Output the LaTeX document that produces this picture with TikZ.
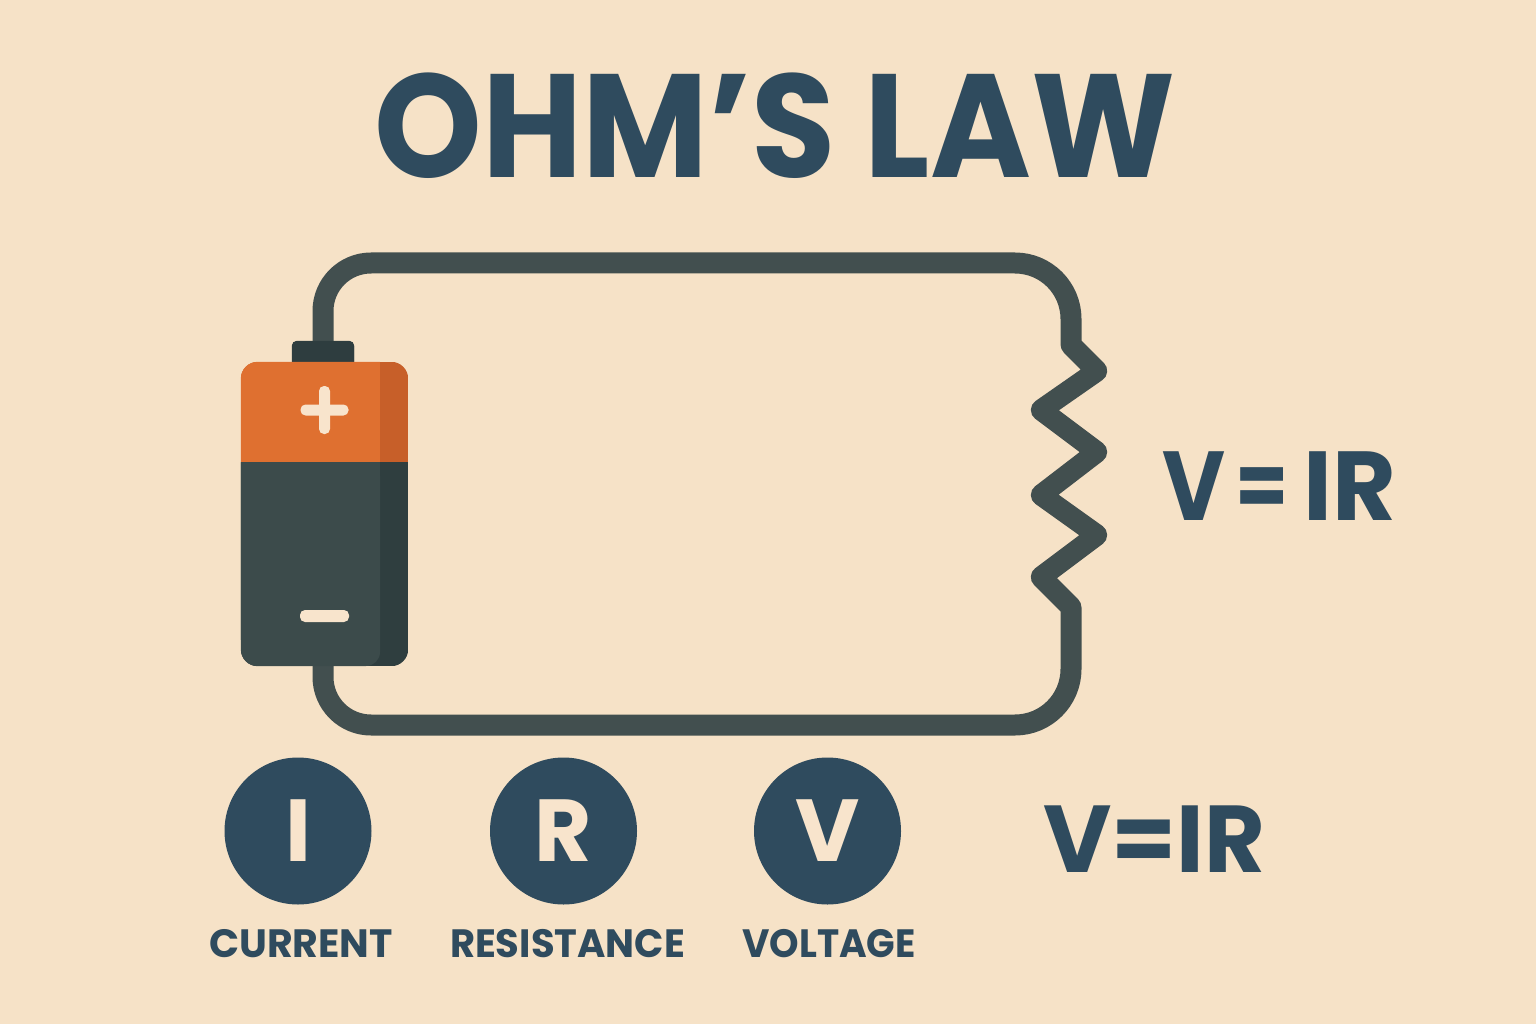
\documentclass[tikz,border=0pt]{standalone}
\usepackage{fontspec}
\setmainfont{Poppins}[BoldFont=Poppins Bold]
\definecolor{bgc}{HTML}{F6E2C7}
\definecolor{ink}{HTML}{2F4B5E}
\definecolor{wirec}{HTML}{424F4F}
\definecolor{darkc}{HTML}{3C4B4B}
\definecolor{darkshade}{HTML}{2F3E3F}
\definecolor{capc}{HTML}{2E3D3F}
\definecolor{orangec}{HTML}{DF7030}
\definecolor{orangeshade}{HTML}{C75F29}
\definecolor{markc}{HTML}{F8E4CC}
\tikzset{
  x=1pt,y=-1pt,
  wire/.style={draw=wirec,line width=21pt,line join=round},
  txt/.style={text=ink,font=\bfseries,inner sep=0pt,anchor=center},
  disc/.style={circle,fill=ink,minimum size=147pt,inner sep=0pt,text=markc,font=\fontsize{88}{88}\selectfont\bfseries},
  cap label/.style={text=ink,inner sep=0pt,transform shape,font=\fontsize{39.5}{40}\selectfont\bfseries},
  mark bar/.style={fill=markc,rounded corners=5pt}
}
\begin{document}
\begin{tikzpicture}
\useasboundingbox (0,0) rectangle (1536,1024);
\fill[bgc] (0,0) rectangle (1536,1024);
% title
\node[txt,transform shape,xscale=.932,font=\fontsize{147}{147}\selectfont\bfseries] (title) at (775,126) {OHM’S LAW};
% anchors
\node[inner sep=0pt,minimum width=167pt,minimum height=304pt] (battery) at (324.5,514) {};
\node[fill=capc,rounded corners=5pt,minimum width=62pt,minimum height=26pt,inner sep=0pt] (cap) at (323,354) {};
\coordinate (zt) at (1071,345);
\coordinate (z1) at (1097,371);
\coordinate (z2) at (1041,410);
\coordinate (z3) at (1097,452);
\coordinate (z4) at (1041,495);
\coordinate (z5) at (1097,535);
\coordinate (z6) at (1041,577);
\coordinate (zb) at (1071,607);
\coordinate (tl) at (323,263);
\coordinate (tr) at (1071,263);
\coordinate (bl) at (323,725);
\coordinate (br) at (1071,725);
\coordinate (batbot) at (323,660);
% wire: corners of the loop are rounded, the resistor zigzag keeps its own joins
\draw[wire] (cap.north) [rounded corners=48pt] -- (tl) [rounded corners=56pt] -- (tr) [rounded corners=0.5pt] -- (zt) -- (z1) -- (z2) -- (z3) -- (z4) -- (z5) -- (z6) -- (zb) [rounded corners=56pt] -- (br) [rounded corners=48pt] -- (bl) -- (batbot);
% cap redraw above wire
\fill[capc,rounded corners=5pt] (cap.north west) rectangle (cap.south east);
% battery body
\begin{scope}
\clip[rounded corners=17pt] (battery.north west) rectangle (battery.south east);
\fill[orangeshade] (241,362) rectangle (408,462);
\fill[darkshade] (241,462) rectangle (408,666);
\fill[orangec] (230,350) rectangle (380,462);
\fill[darkc,rounded corners=14pt] (230,462) -- (380,462) -- (380,666) -- (230,666) -- cycle;
\fill[darkc] (230,462) rectangle (380,640);
\end{scope}
% plus / minus
\node[mark bar,minimum width=48pt,minimum height=11pt,inner sep=0pt] (plush) at (324.5,410) {};
\node[mark bar,minimum width=11pt,minimum height=48pt,inner sep=0pt] (plusv) at (324.5,410) {};
\node[mark bar,minimum width=49pt,minimum height=12pt,inner sep=0pt] (minus) at (324.5,616) {};
% equations
\node[txt,font=\fontsize{98}{98}\selectfont\bfseries] (eqa) at (1279.25,486) {\scalebox{.88}[1]{V}\kern10.5pt\raisebox{2.5pt}{\scalebox{.78}[.92]{=}}\kern15pt IR};
\node[txt,transform shape,xscale=.985,font=\fontsize{95}{95}\selectfont\bfseries] (eqb) at (1154.5,839) {V=IR};
% legend
\node[disc] (di) at (298,831) {\raisebox{-2pt}{I}};
\node[disc] (dr) at (563.5,831) {\raisebox{-2pt}{R}};
\node[disc] (dv) at (827.5,831) {\raisebox{-2pt}{V}};
\node[cap label] (li) at (301,944) {CURRENT};
\node[cap label,xscale=.975] (lr) at (567.5,944) {RESISTANCE};
\node[cap label,xscale=.95] (lv) at (829,944) {VOLTAGE};
\end{tikzpicture}
\end{document}
